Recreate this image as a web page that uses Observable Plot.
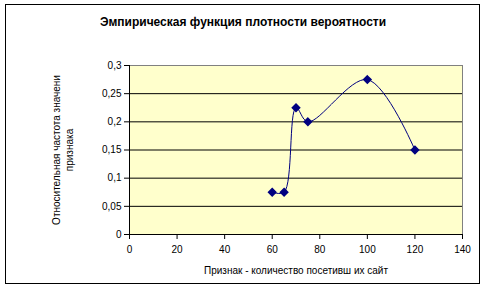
<!DOCTYPE html>
<html>
<head>
<meta charset="utf-8">
<script src="https://cdn.jsdelivr.net/npm/d3@7"></script>
<script src="https://cdn.jsdelivr.net/npm/@observablehq/plot@0.6"></script>
<style>
  html, body { margin: 0; padding: 0; background: #fff; }
  #wrap { position: relative; width: 486px; height: 290px; overflow: hidden; font-family: "Liberation Sans", Arial, sans-serif; }
  #border { position: absolute; left: 5px; top: 4px; width: 473px; height: 278px; border: 1px solid #000; box-sizing: content-box; }
  #title { position: absolute; left: 0; width: 486px; top: 15px; text-align: center; font-size: 12px; font-weight: bold; color: #000; }
  #chart { position: absolute; left: 0; top: 0; }
</style>
</head>
<body>
<div id="wrap">
  <div id="border"></div>
  <div id="chart"></div>
  <div id="title">Эмпирическая функция плотности вероятности</div>
</div>
<script>
const xValues = [60, 65, 70, 75, 100, 120];
const yValues = [0.075, 0.075, 0.225, 0.2, 0.275, 0.15];
const xTicks = [0, 20, 40, 60, 80, 100, 120, 140];
const yTicks = [0, 0.05, 0.1, 0.15, 0.2, 0.25, 0.3];
const gridValues = [0.05, 0.1, 0.15, 0.2, 0.25];
const titleText = "Эмпирическая функция плотности вероятности";
const xLabel = "Признак - количество посетивш их сайт";
const yLabelLines = ["Относительная частота значени", "признака"];

const data = xValues.map((x, i) => ({x, y: yValues[i]}));
const fmt = d => String(d).replace(".", ",");

const plot = Plot.plot({
  width: 486,
  height: 290,
  marginLeft: 129,
  marginRight: 24,
  marginTop: 65,
  marginBottom: 56,
  style: {fontFamily: '"Liberation Sans", Arial, sans-serif', fontSize: "10px", background: "transparent", color: "#000"},
  x: {domain: [0, 140]},
  y: {domain: [0, 0.3]},
  marks: [
    Plot.frame({fill: "#FFFFCC", stroke: "#808080"}),
    Plot.ruleY(gridValues, {stroke: "#000", strokeWidth: 1}),
    Plot.ruleX([0], {stroke: "#000"}),
    Plot.ruleY([0], {stroke: "#000"}),
    Plot.axisY({ticks: yTicks, tickFormat: fmt, tickSize: 5, tickPadding: 3, label: null, stroke: "#000", fill: "#000"}),
    Plot.axisX({ticks: xTicks, tickFormat: d => String(d), tickSize: 5, tickPadding: 6, label: null, stroke: "#000", fill: "#000"}),
    Plot.line(data, {x: "x", y: "y", curve: "catmull-rom", stroke: "#000080", strokeWidth: 1}),
    Plot.dot(data, {x: "x", y: "y", symbol: "diamond2", r: 3.3, fill: "#000080", stroke: "#000080"}),
    Plot.text([xLabel], {frameAnchor: "bottom", dy: 39, text: d => d, fontSize: 10, fill: "#000"}),
    Plot.text([yLabelLines[0]], {frameAnchor: "left", dx: -73, rotate: -90, textAnchor: "middle", text: d => d, fontSize: 10, fill: "#000"}),
    Plot.text([yLabelLines[1]], {frameAnchor: "left", dx: -60, rotate: -90, textAnchor: "middle", text: d => d, fontSize: 10, fill: "#000"})
  ]
});
document.getElementById("chart").appendChild(plot);
document.getElementById("title").textContent = titleText;
</script>
</body>
</html>
